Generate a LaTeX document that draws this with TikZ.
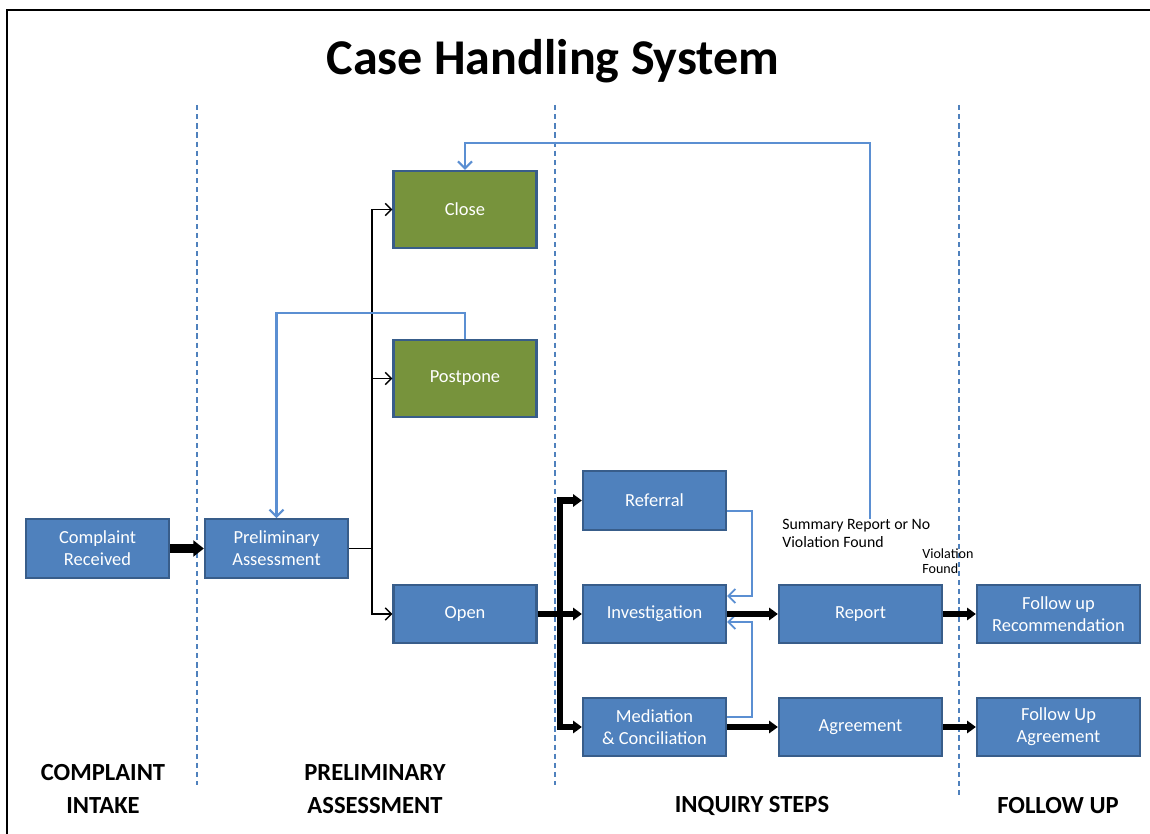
\documentclass[tikz,border=0pt]{standalone}
\usepackage{fontspec}
\setmainfont{Carlito}
\usetikzlibrary{arrows.meta,calc}

\definecolor{boxblue}{HTML}{4F81BD}
\definecolor{boxedge}{HTML}{385D8A}
\definecolor{boxgreen}{HTML}{77933C}
\definecolor{linkblue}{HTML}{5B8FD2}

\tikzset{
  stage/.style={draw=boxedge, line width=1.3pt, fill=boxblue, text=white,
    font=\fontsize{10.5}{12.5}\selectfont, align=center,
    minimum width=2.86cm, minimum height=1.17cm, inner sep=1pt},
  decision/.style={stage, fill=boxgreen, minimum height=1.54cm},
  wide/.style={minimum width=3.26cm},
  phase/.style={font=\bfseries\fontsize{14}{19}\selectfont, align=center},
  remark/.style={font=\fontsize{#1}{#1}\selectfont, align=left, anchor=north west, inner sep=0pt},
  flow/.style={line width=3.8pt, -{Triangle[length=5pt, width=7pt]}},
  flowline/.style={line width=3.8pt},
  branch/.style={line width=0.8pt, -{Straight Barb[length=3.5pt, width=7pt]}},
  feedback/.style={draw=linkblue, line width=1.2pt, -{Straight Barb[length=4pt, width=8pt]}},
  divider/.style={draw=boxblue, line width=1.1pt, dash pattern=on 3pt off 2.2pt}
}

\begin{document}
\begin{tikzpicture}[x=0.02cm, y=-0.02cm]
  \useasboundingbox (0,0) rectangle (1150,834);
  \draw[line width=1.4pt] (7,834) -- (7,10) -- (1150,10); %frame

  \node[font=\bfseries\fontsize{28.5}{30}\selectfont] (title) at (553,61) {Case Handling System};

  %phase dividers
  \draw[divider] (197,105) -- (197,785);
  \draw[divider] (555,105) -- (555,785);
  \draw[divider] (959,105) -- (959,795);

  %boxes
  \node[stage] (complaint) at (97.5,548.5) {Complaint\\Received};
  \node[stage] (prelim) at (276.5,548.5) {Preliminary\\Assessment};
  \node[decision] (close) at (465,209.5) {Close};
  \node[decision] (postpone) at (465,378.5) {Postpone};
  \node[stage] (open) at (465,614) {Open};
  \node[stage] (referral) at (654.5,500.5) {Referral};
  \node[stage] (invest) at (654.5,614) {Investigation};
  \node[stage] (mediation) at (654.5,727) {Mediation\\\& Conciliation};
  \node[stage, wide] (report) at (860.5,614) {Report};
  \node[stage, wide] (agreement) at (860.5,727) {Agreement};
  \node[stage, wide] (recommend) at (1058.5,614) {Follow up\\Recommendation};
  \node[stage, wide] (followagree) at (1058.5,727) {Follow Up\\Agreement};

  %small labels
  \node[remark=9] (summary) at (782,519) {Summary Report or No\\[1pt]Violation Found};
  \node[remark=8] (found) at (922,548) {Violation\\[1pt]Found};

  %phase names
  \node[phase] (intake) at (103,789) {COMPLAINT\\INTAKE};
  \node[phase] (assess) at (375,789) {PRELIMINARY\\ASSESSMENT};
  \node[phase] (inquiry) at (752,806) {INQUIRY STEPS};
  \node[phase] (follow) at (1058,806) {FOLLOW UP};

  %connectors
  \coordinate (split) at (372,548.5);
  \coordinate (hub) at (560,614);
  \coordinate (xtop) at (870,143);
  \draw[flow, line width=5pt, -{Triangle[length=6pt, width=9pt]}] (complaint) -- (prelim);
  \draw[line width=0.8pt] (prelim.east) -- (split);
  \draw[branch] (split) |- (close.west);
  \draw[branch] (split) |- (postpone.west);
  \draw[branch] (split) |- (open.west);

  \draw[feedback] (postpone.north) -- ++(0,-26) -| (prelim.north);
  \draw[feedback] (summary.north -| xtop) -- (xtop) -| (close.north);

  \draw[flowline] (open.east) -- (hub);
  \draw[flow] (hub) |- (referral.west);
  \draw[flow] (hub) -- (invest.west);
  \draw[flow] (hub) |- (mediation.west);

  \draw[feedback, line width=1pt] ($(referral.east)+(0,10.5)$) -| ($(invest.east)+(25,-18)$) -- ($(invest.east)+(0,-18)$);
  \draw[feedback, line width=1pt] ($(mediation.east)+(0,-10)$) -| ($(invest.east)+(25,8)$) -- ($(invest.east)+(0,8)$);

  \draw[flow] (invest) -- (report);
  \draw[flow] (mediation) -- (agreement);
  \draw[flow] (report) -- (recommend);
  \draw[flow] (agreement) -- (followagree);
\end{tikzpicture}
\end{document}
